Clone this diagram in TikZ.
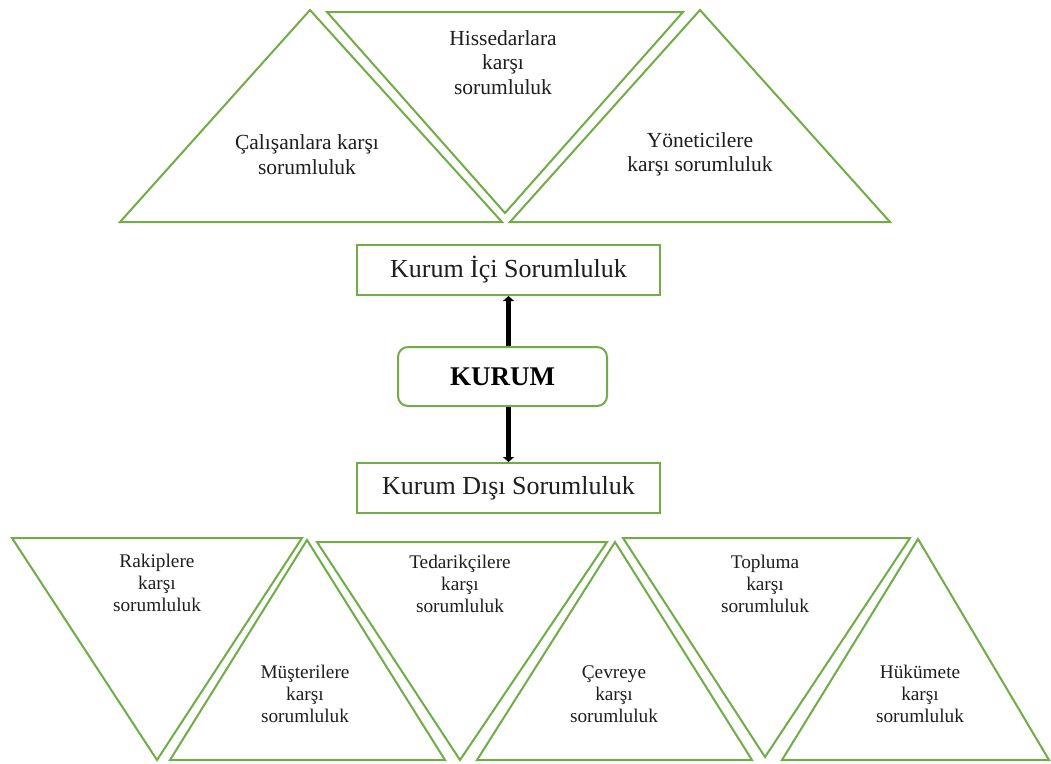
\documentclass[tikz,border=0pt]{standalone}
\usepackage{fontspec}
\setmainfont{Liberation Serif}
\usetikzlibrary{arrows.meta}
\definecolor{leaf}{RGB}{112,173,71}
\definecolor{ink}{RGB}{30,30,30}

\begin{document}
\begin{tikzpicture}[x=1pt,y=-1pt,
  tri/.style={draw=leaf,line width=2pt,line join=miter},
  boxnode/.style={draw=leaf,line width=2pt,minimum width=303pt,minimum height=50pt,
    inner sep=0pt,font=\fontsize{26}{30}\selectfont,text=ink},
  corenode/.style={draw=leaf,line width=2pt,rounded corners=10pt,minimum width=209pt,
    minimum height=59pt,inner sep=0pt,font=\fontsize{27}{32}\selectfont\bfseries,text=black},
  toplabel/.style={align=center,inner sep=0pt,font=\fontsize{21.5}{24.5}\selectfont,text=ink},
  lowlabel/.style={align=center,inner sep=0pt,font=\fontsize{19.3}{22}\selectfont,text=ink},
  link/.style={line width=5pt,-{Triangle[length=5pt,width=11pt]}}]

\useasboundingbox (0,0) rectangle (1051,763);
\fill[white] (0,0) rectangle (1051,763);

% upper row of triangles (internal stakeholders)
\draw[tri] (310,10) -- (502,222) -- (120,222) -- cycle;
\draw[tri] (327,12) -- (683,12) -- (505,213) -- cycle;
\draw[tri] (700,10) -- (890,222) -- (510,222) -- cycle;

\node[toplabel] (calisan) at (307,154.5) {Çalışanlara karşı\\sorumluluk};
\node[toplabel] (hisse) at (503,62.5) {Hissedarlara\\karşı\\sorumluluk};
\node[toplabel] (yonetici) at (700,154.5) {Yöneticilere\\karşı sorumluluk};

% central column
\node[boxnode] (inner) at (508.5,270) {Kurum İçi Sorumluluk};
\node[corenode] (core) at (502.5,376.5) {KURUM};
\node[boxnode] (outer) at (508.5,488) {Kurum Dışı Sorumluluk};

\draw[link] (core.north -| inner.south) -- (inner.south);
\draw[link] (core.south -| outer.north) -- (outer.north);

% lower row of triangles (external stakeholders)
\draw[tri] (12,538) -- (302,538) -- (157,760) -- cycle;
\draw[tri] (307,540) -- (445,760) -- (170,760) -- cycle;
\draw[tri] (317,542) -- (607,542) -- (460,760) -- cycle;
\draw[tri] (615,542) -- (752,760) -- (477,760) -- cycle;
\draw[tri] (623,538) -- (910,538) -- (765,757) -- cycle;
\draw[tri] (918,539) -- (1049,760) -- (782,760) -- cycle;

\node[lowlabel] (rakip) at (157,583) {Rakiplere\\karşı\\sorumluluk};
\node[lowlabel] (musteri) at (305,694) {Müşterilere\\karşı\\sorumluluk};
\node[lowlabel] (tedarik) at (460,584) {Tedarikçilere\\karşı\\sorumluluk};
\node[lowlabel] (cevre) at (614,694) {Çevreye\\karşı\\sorumluluk};
\node[lowlabel] (toplum) at (765,584) {Topluma\\karşı\\sorumluluk};
\node[lowlabel] (hukumet) at (920,694) {Hükümete\\karşı\\sorumluluk};
\end{tikzpicture}
\end{document}
